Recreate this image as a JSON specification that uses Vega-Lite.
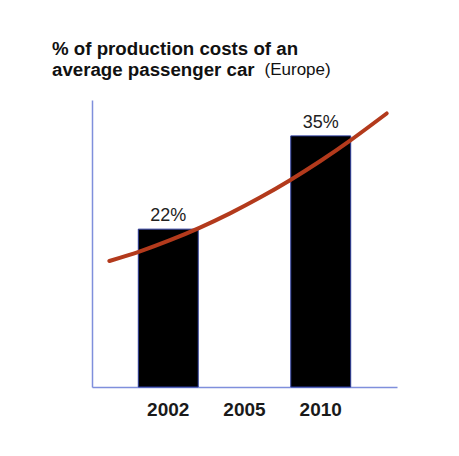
{
  "$schema": "https://vega.github.io/schema/vega-lite/v6.json",
  "autosize": {"type": "none"},
  "width": 305,
  "height": 287,
  "padding": {"left": 92, "top": 100, "right": 62, "bottom": 69},
  "background": "#ffffff",
  "config": {"view": {"stroke": null}, "font": "Liberation Sans"},
  "title": {
    "text": ["% of production costs of an", "average passenger car"],
    "subtitle": "\u200b\u00a0\u00a0\u00a0\u00a0\u00a0\u00a0\u00a0\u00a0\u00a0\u00a0\u00a0\u00a0\u00a0\u00a0\u00a0\u00a0\u00a0\u00a0\u00a0\u00a0\u00a0\u00a0\u00a0\u00a0\u00a0\u00a0\u00a0\u00a0\u00a0\u00a0\u00a0\u00a0\u00a0\u00a0\u00a0\u00a0\u00a0\u00a0\u00a0\u00a0\u00a0\u00a0\u00a0\u00a0\u00a0(Europe)",
    "anchor": "start",
    "frame": "group",
    "dx": -40,
    "offset": 20,
    "font": "Liberation Sans",
    "fontSize": 18.7,
    "fontWeight": "bold",
    "color": "#111111",
    "lineHeight": 21,
    "subtitleFont": "Liberation Sans",
    "subtitleFontSize": 17,
    "subtitleFontWeight": "normal",
    "subtitleColor": "#111111",
    "subtitlePadding": -18
  },
  "datasets": {
    "bars": [
      {"year": "2002", "pct": 22, "label": "22%"},
      {"year": "2010", "pct": 35, "label": "35%"}
    ],
    "curve": [
      {"pos": 0.227, "pct": 17.56},
      {"pos": 0.63, "pct": 18.91},
      {"pos": 1.023, "pct": 20.46},
      {"pos": 1.416, "pct": 22.22},
      {"pos": 1.81, "pct": 24.2},
      {"pos": 2.203, "pct": 26.4},
      {"pos": 2.597, "pct": 28.82},
      {"pos": 2.99, "pct": 31.46},
      {"pos": 3.384, "pct": 34.33},
      {"pos": 3.865, "pct": 38.12}
    ]
  },
  "layer": [
    {
      "data": {"name": "bars"},
      "encoding": {
        "x": {
          "field": "year", "type": "nominal",
          "scale": {"type": "band", "domain": ["2002", "2005", "2010"], "paddingInner": 0.214, "paddingOuter": 0.607},
          "axis": {
            "title": null, "ticks": false, "tickSize": 0, "labelAngle": 0,
            "labelFont": "Liberation Sans", "labelFontSize": 19, "labelFontWeight": "bold",
            "labelColor": "#1a1a1a", "labelPadding": 13,
            "domainColor": "#7f8fdc", "domainWidth": 1.5
          }
        },
        "y": {
          "field": "pct", "type": "quantitative",
          "scale": {"domain": [0, 40], "nice": false},
          "axis": {
            "title": null, "ticks": false, "labels": false, "grid": false,
            "domainColor": "#7f8fdc", "domainWidth": 1.5
          }
        }
      },
      "layer": [
        {
          "mark": {"type": "bar", "color": "#000000", "stroke": "#2a3a9a", "strokeWidth": 1}
        },
        {
          "mark": {"type": "text", "baseline": "alphabetic", "dy": -8, "font": "Liberation Sans", "fontSize": 18, "color": "#222222"},
          "encoding": {"text": {"field": "label"}}
        }
      ]
    },
    {
      "data": {"name": "curve"},
      "mark": {"type": "line", "color": "#b33a1c", "strokeWidth": 4, "strokeCap": "round", "interpolate": "natural"},
      "encoding": {
        "x": {"field": "pos", "type": "quantitative", "scale": {"domain": [0, 4], "nice": false, "zero": false}, "axis": null},
        "y": {"field": "pct", "type": "quantitative"}
      }
    }
  ],
  "resolve": {"scale": {"x": "independent"}}
}
